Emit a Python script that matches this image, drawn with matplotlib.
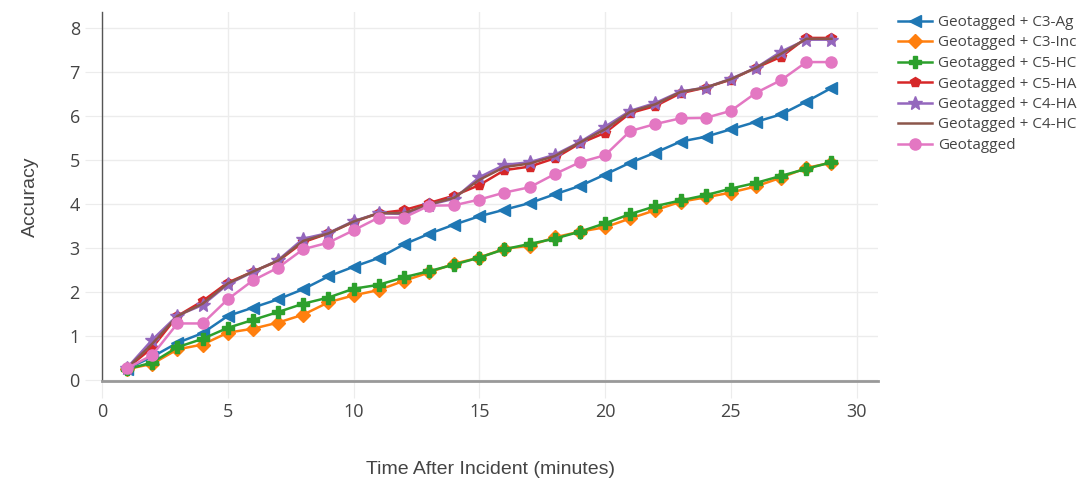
import numpy as np
import matplotlib.pyplot as plt

# Minutos después del incidente
minutos = list(range(1, 30))

c3_ag = [0.25, 0.52, 0.84, 1.06, 1.45, 1.64, 1.83, 2.06, 2.35, 2.57, 2.77, 3.08, 3.32, 3.53, 3.72,
         3.87, 4.02, 4.22, 4.41, 4.67, 4.94, 5.17, 5.42, 5.53, 5.70, 5.87, 6.04, 6.33, 6.64]
c3_inc = [0.24, 0.36, 0.69, 0.80, 1.07, 1.16, 1.30, 1.48, 1.76, 1.92, 2.04, 2.25, 2.44, 2.64, 2.78,
          2.98, 3.05, 3.24, 3.37, 3.47, 3.67, 3.86, 4.05, 4.15, 4.26, 4.40, 4.60, 4.82, 4.94]
c5_hc = [0.24, 0.39, 0.74, 0.93, 1.18, 1.36, 1.54, 1.73, 1.87, 2.07, 2.16, 2.33, 2.47, 2.62, 2.78,
         2.97, 3.09, 3.21, 3.37, 3.56, 3.77, 3.95, 4.08, 4.20, 4.35, 4.48, 4.64, 4.80, 4.95]
c5_ha = [0.26, 0.73, 1.45, 1.79, 2.21, 2.46, 2.70, 3.13, 3.33, 3.59, 3.79, 3.86, 4.02, 4.19, 4.43,
         4.77, 4.85, 5.04, 5.38, 5.62, 6.07, 6.23, 6.52, 6.65, 6.83, 7.10, 7.35, 7.78, 7.78]
c4_ha = [0.27, 0.91, 1.46, 1.70, 2.17, 2.45, 2.72, 3.21, 3.34, 3.61, 3.79, 3.77, 3.98, 4.12, 4.61,
         4.89, 4.95, 5.12, 5.41, 5.76, 6.12, 6.30, 6.56, 6.65, 6.85, 7.10, 7.47, 7.74, 7.74]
c4_hc = [0.26, 0.82, 1.45, 1.73, 2.19, 2.46, 2.71, 3.16, 3.33, 3.60, 3.79, 3.79, 3.99, 4.14, 4.55,
         4.84, 4.92, 5.09, 5.40, 5.70, 6.10, 6.27, 6.55, 6.65, 6.84, 7.10, 7.42, 7.76, 7.76]
geotagged = [0.26, 0.56, 1.28, 1.28, 1.83, 2.26, 2.55, 2.97, 3.12, 3.40, 3.69, 3.69, 3.96, 3.97, 4.10,
             4.26, 4.38, 4.68, 4.95, 5.11, 5.66, 5.82, 5.95, 5.96, 6.12, 6.53, 6.82, 7.23, 7.23]

etiquetas = ['Geotagged + C3-Ag', 'Geotagged + C3-Inc', 'Geotagged + C5-HC', 'Geotagged + C5-HA',
             'Geotagged + C4-HA', 'Geotagged + C4-HC', 'Geotagged']
series = [c3_ag, c3_inc, c5_hc, c5_ha, c4_ha, c4_hc, geotagged]
colores = ['#1f77b4', '#ff7f0e', '#2ca02c', '#d62728', '#9467bd', '#8c564b', '#e377c2']
marcadores = ['<', 'D', 'P', 'p', '*', None, 'o']
tamanos = [8, 7, 9, 7, 10, 0, 8]

fig = plt.figure(figsize=(10.78, 4.79), dpi=100)
ax = fig.add_axes([102 / 1078, 1 - 381 / 479, 776 / 1078, 369 / 479])

for y, lab, c, m, s in zip(series, etiquetas, colores, marcadores, tamanos):
    ax.plot(minutos, y, color=c, marker=m, markersize=s, linewidth=1.8, label=lab)

ax.set_xlim(0, 30.85)
ax.set_ylim(-0.03, 8.37)
ax.set_xticks([0, 5, 10, 15, 20, 25, 30])
ax.set_yticks(range(0, 9))
ax.grid(color='#ececec', linewidth=1)
ax.set_axisbelow(True)
for lado in ['top', 'right']:
    ax.spines[lado].set_visible(False)
ax.spines['left'].set_color('#555555')
ax.spines['left'].set_linewidth(1)
ax.spines['bottom'].set_color('#999999')
ax.spines['bottom'].set_linewidth(2)
ax.tick_params(direction='out', length=12, color='#ececec', labelcolor='#444444',
               labelsize=13, pad=4)
for t in ax.get_xticklabels() + ax.get_yticklabels():
    t.set_family('Open Sans')

ax.set_xlabel('Time After Incident (minutes)', fontsize=14, color='#444444',
              family='Liberation Sans', labelpad=29)
ax.set_ylabel('Accuracy', fontsize=14, color='#444444', family='Liberation Sans', labelpad=22)

fig.legend(loc='upper left', bbox_to_anchor=(898 / 1078, 1 - 15 / 479), frameon=False,
           prop={'family': 'Open Sans', 'size': 11}, handlelength=2.2, labelspacing=0.36,
           borderaxespad=0, borderpad=0, handletextpad=0.45, labelcolor='#444444')

fig.savefig('out.png', dpi=100)
